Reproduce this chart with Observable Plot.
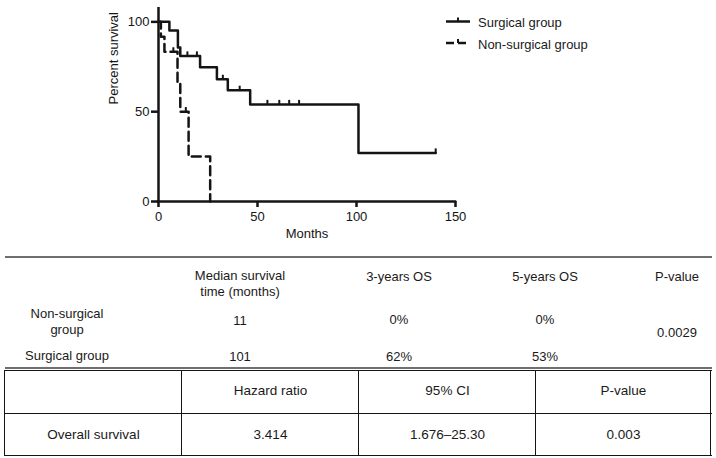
<!DOCTYPE html>
<html>
<head>
<meta charset="utf-8">
<script src="https://cdn.jsdelivr.net/npm/d3@7"></script>
<script src="https://cdn.jsdelivr.net/npm/@observablehq/plot@0.6"></script>
<style>
  html, body { margin: 0; padding: 0; background: #fff; }
  #wrap { position: relative; width: 716px; height: 458px; overflow: hidden; font-family: 'Liberation Sans', Arial, sans-serif; color: #1a1a1a; }
  #chart { position: absolute; left: 0; top: 0; }
  .t { position: absolute; white-space: nowrap; line-height: 1; transform: translate(-50%, -50%); font-size: 13px; }
  .l { position: absolute; white-space: nowrap; line-height: 1; transform: translate(0, -50%); font-size: 13px; }
  .hl { position: absolute; height: 0; }
  .vl { position: absolute; width: 0; }
</style>
</head>
<body>
<div id="wrap">
  <div id="chart"></div>
</div>
<script>
// ---- Kaplan–Meier data ----
const surgicalMonths   = [0, 5.5, 9.8, 11, 21, 29.5, 35, 46.3, 101, 140];
const surgicalSurvival = [100, 95.2, 85.7, 81.0, 74.8, 68.0, 61.9, 54.0, 27.0, 27.0];
const surgicalCensoredMonths   = [14.6, 19.4, 32.5, 41, 55, 61, 66, 71, 140];
const surgicalCensoredSurvival = [81.0, 81.0, 68.0, 61.9, 54.0, 54.0, 54.0, 54.0, 27.0];

const nonSurgicalMonths   = [0, 1.2, 3, 9.6, 11, 15.2, 26.1];
const nonSurgicalSurvival = [100, 91.7, 83.3, 66.0, 50.0, 25.0, 0];
const nonSurgicalCensoredMonths   = [7.5, 13.8];
const nonSurgicalCensoredSurvival = [83.3, 50.0];

const xTicks = [0, 50, 100, 150];
const yTicks = [0, 50, 100];
const xLabel = "Months";
const yLabel = "Percent survival";
const seriesNames = ["Surgical group", "Non-surgical group"];

// ---- Table 1 ----
const table1Header = [["", ""], ["Median survival", "time (months)"], ["3-years OS"], ["5-years OS"], ["P-value"]];
const table1RowLabels = [["Non-surgical", "group"], ["Surgical group"]];
const table1Median = ["11", "101"];
const table1OS3 = ["0%", "62%"];
const table1OS5 = ["0%", "53%"];
const table1P = "0.0029";

// ---- Table 2 ----
const table2Header = ["", "Hazard ratio", "95% CI", "P-value"];
const table2Row = ["Overall survival", "3.414", "1.676\u201325.30", "0.003"];

// ---- Chart ----
const zip = (xs, ys) => xs.map((t, i) => ({t, s: ys[i]}));
const surg = zip(surgicalMonths, surgicalSurvival);
const surgC = zip(surgicalCensoredMonths, surgicalCensoredSurvival);
const non = zip(nonSurgicalMonths, nonSurgicalSurvival);
const nonC = zip(nonSurgicalCensoredMonths, nonSurgicalCensoredSurvival);

const tickUp = {draw(ctx, size) { const l = Math.sqrt(size); ctx.moveTo(0, 0); ctx.lineTo(0, -l); }};
const ink = "#141414";

const chart = Plot.plot({
  width: 716,
  height: 250,
  marginLeft: 158,
  marginRight: 261,
  marginTop: 7,
  marginBottom: 49,
  x: {domain: [0, 150]},
  y: {domain: [0, 108]},
  style: {fontFamily: "'Liberation Sans', Arial, sans-serif", fontSize: "13px", color: ink, background: "transparent"},
  marks: [
    Plot.axisX({ticks: xTicks, tickSize: 6, tickPadding: 4, strokeWidth: 2.5, label: null, fontSize: 13}),
    Plot.axisY({ticks: yTicks, tickSize: 7, tickPadding: 2, strokeWidth: 2.5, label: null, fontSize: 13}),
    Plot.ruleX([0], {y1: 0, y2: 108, stroke: ink, strokeWidth: 2.5}),
    Plot.ruleY([0], {x1: 0, x2: 150, stroke: ink, strokeWidth: 2.5, strokeLinecap: "square"}),
    Plot.line(non, {x: "t", y: "s", curve: "step-after", stroke: ink, strokeWidth: 2.5, strokeDasharray: "9,5"}),
    Plot.line(surg, {x: "t", y: "s", curve: "step-after", stroke: ink, strokeWidth: 2.5}),
    Plot.dot(surgC, {x: "t", y: "s", symbol: tickUp, r: 2.6, stroke: ink, strokeWidth: 2, fill: "none"}),
    Plot.dot(nonC, {x: "t", y: "s", symbol: tickUp, r: 2.6, stroke: ink, strokeWidth: 2, fill: "none"}),
    Plot.text([xLabel], {text: d => d, frameAnchor: "bottom", dy: 36, fontSize: 13, fill: ink}),
    Plot.text([yLabel], {text: d => d, frameAnchor: "left", dx: -45, rotate: -90, fontSize: 13, fill: ink})
  ]
});
document.getElementById("chart").appendChild(chart);

// ---- Helpers for HTML overlay ----
const wrap = document.getElementById("wrap");
function txt(s, cx, cy, cls = "t", extra = "") {
  const d = document.createElement("div");
  d.className = cls;
  d.textContent = s;
  d.style.left = cx + "px";
  d.style.top = cy + "px";
  if (extra) d.style.cssText += extra;
  wrap.appendChild(d);
}
function hline(x1, x2, y, w, color) {
  const d = document.createElement("div");
  d.className = "hl";
  d.style.cssText += `left:${x1}px;width:${x2 - x1}px;top:${y - w / 2}px;border-top:${w}px solid ${color};`;
  wrap.appendChild(d);
}
function vline(x, y1, y2, w, color) {
  const d = document.createElement("div");
  d.className = "vl";
  d.style.cssText += `left:${x - w / 2}px;top:${y1}px;height:${y2 - y1}px;border-left:${w}px solid ${color};`;
  wrap.appendChild(d);
}

// ---- Legend ----
const legendSvg = `
<svg width="40" height="60" style="position:absolute;left:440px;top:0;overflow:visible">
  <line x1="6" x2="30" y1="21.5" y2="21.5" stroke="${ink}" stroke-width="2.5"/>
  <line x1="18" x2="18" y1="21.5" y2="17.5" stroke="${ink}" stroke-width="2"/>
  <line x1="6" x2="30" y1="43" y2="43" stroke="${ink}" stroke-width="2.5" stroke-dasharray="8,4"/>
  <line x1="18" x2="18" y1="43" y2="39" stroke="${ink}" stroke-width="2"/>
</svg>`;
wrap.insertAdjacentHTML("beforeend", legendSvg);
txt(seriesNames[0], 478, 21.5, "l");
txt(seriesNames[1], 478, 43.5, "l");

// ---- Table 1 ----
const t1x = [67, 240, 399, 545, 677];
hline(5, 712, 257.5, 2.5, "#6f6f6f");
table1Header.forEach((lines, i) => {
  if (lines.length === 2 && lines[0]) { txt(lines[0], t1x[i], 275); txt(lines[1], t1x[i], 291); }
  else if (lines[0]) txt(lines[0], t1x[i], 276);
});
txt(table1RowLabels[0][0], t1x[0], 313);
txt(table1RowLabels[0][1], t1x[0], 329);
txt(table1Median[0], t1x[1], 320);
txt(table1OS3[0], t1x[2], 319);
txt(table1OS5[0], t1x[3], 319);
txt(table1P, t1x[4], 332);
txt(table1RowLabels[1][0], t1x[0], 355);
txt(table1Median[1], t1x[1], 356);
txt(table1OS3[1], t1x[2], 356);
txt(table1OS5[1], t1x[3], 356);

// ---- Table 2 ----
const t2edges = [5, 182, 359, 536, 711];
hline(5, 712, 367.5, 2, "#6f6f6f");
hline(5, 712, 370.5, 1.5, ink);
hline(5, 712, 414, 1.2, ink);
hline(5, 712, 455.5, 1.5, ink);
t2edges.forEach(x => vline(x, 370, 456, 1.3, ink));
for (let i = 0; i < 4; i++) {
  const cx = (t2edges[i] + t2edges[i + 1]) / 2;
  if (table2Header[i]) txt(table2Header[i], cx, 391, "t", "font-size:13.5px;");
  txt(table2Row[i], cx, 435, "t", "font-size:13.5px;");
}
</script>
</body>
</html>
